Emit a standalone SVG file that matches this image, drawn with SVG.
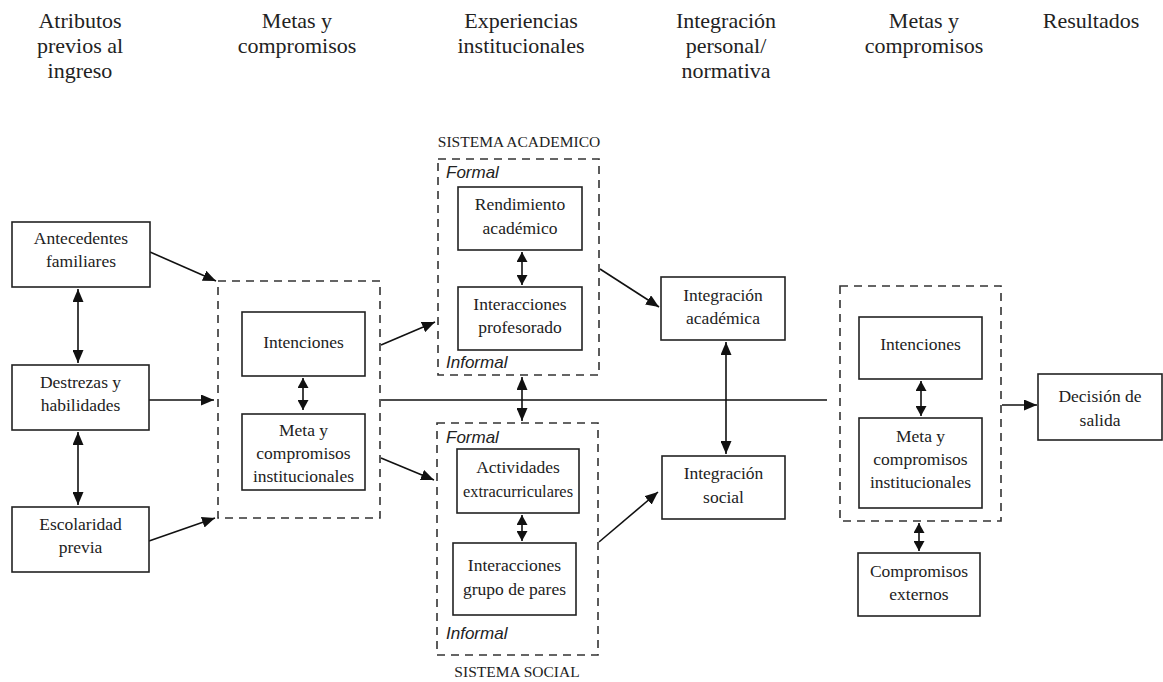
<svg xmlns="http://www.w3.org/2000/svg" width="1163" height="682" viewBox="0 0 1163 682">
<style>
.bg{fill:#fff}
.box{fill:#fff;stroke:#222;stroke-width:1.6}
.dash{fill:none;stroke:#333;stroke-width:1.6;stroke-dasharray:8 6}
.t{font-family:"Liberation Serif","Times New Roman",serif;font-size:17.5px;fill:#222;text-anchor:middle}
.h{font-family:"Liberation Serif","Times New Roman",serif;font-size:22px;fill:#222;text-anchor:middle}
.s{font-family:"Liberation Serif","Times New Roman",serif;font-size:15.5px;fill:#222;text-anchor:middle}
.i{font-family:"Liberation Sans",Arial,sans-serif;font-size:17px;font-style:italic;fill:#222}
.c{fill:none;stroke:#111;stroke-width:1.6}
</style>
<defs>
<marker id="ah" markerUnits="userSpaceOnUse" markerWidth="13" markerHeight="11" refX="13" refY="5.5" orient="auto-start-reverse">
<path d="M0,0 L13,5.5 L0,11 z" fill="#111"/>
</marker>
<marker id="as" markerUnits="userSpaceOnUse" markerWidth="10" markerHeight="11" refX="10" refY="5.5" orient="auto-start-reverse">
<path d="M0,0 L10,5.5 L0,11 z" fill="#111"/>
</marker>
</defs>
<rect class="bg" x="0" y="0" width="1163" height="682"/>

<g id="headers">
<text class="h" x="80" y="28">Atributos</text>
<text class="h" x="80" y="53">previos al</text>
<text class="h" x="80" y="78">ingreso</text>
<text class="h" x="297" y="28">Metas y</text>
<text class="h" x="297" y="53">compromisos</text>
<text class="h" x="521" y="28">Experiencias</text>
<text class="h" x="521" y="53">institucionales</text>
<text class="h" x="726" y="28">Integración</text>
<text class="h" x="726" y="53">personal/</text>
<text class="h" x="726" y="78">normativa</text>
<text class="h" x="924" y="28">Metas y</text>
<text class="h" x="924" y="53">compromisos</text>
<text class="h" x="1091" y="28">Resultados</text>
</g>

<g id="connectors">
<line class="c" x1="150" y1="252" x2="216" y2="281" marker-end="url(#ah)"/>
<line class="c" x1="149" y1="400" x2="214" y2="400" marker-end="url(#ah)"/>
<line class="c" x1="149" y1="541" x2="215" y2="518" marker-end="url(#ah)"/>
<line class="c" x1="78" y1="289" x2="78" y2="363" marker-start="url(#ah)" marker-end="url(#ah)"/>
<line class="c" x1="78" y1="432" x2="78" y2="505" marker-start="url(#ah)" marker-end="url(#ah)"/>
<line class="c" x1="303" y1="378" x2="303" y2="410" marker-start="url(#as)" marker-end="url(#as)"/>
<line class="c" x1="381" y1="345" x2="435" y2="322" marker-end="url(#ah)"/>
<line class="c" x1="381" y1="458" x2="434" y2="480" marker-end="url(#ah)"/>
<line class="c" x1="381" y1="400" x2="827" y2="400"/>
<line class="c" x1="522" y1="252" x2="522" y2="285" marker-start="url(#as)" marker-end="url(#as)"/>
<line class="c" x1="522" y1="377" x2="522" y2="421" marker-start="url(#ah)" marker-end="url(#ah)"/>
<line class="c" x1="522" y1="515" x2="522" y2="541" marker-start="url(#as)" marker-end="url(#as)"/>
<line class="c" x1="600" y1="269" x2="659" y2="307" marker-end="url(#ah)"/>
<line class="c" x1="599" y1="542" x2="658" y2="492" marker-end="url(#ah)"/>
<line class="c" x1="726" y1="342" x2="726" y2="454" marker-start="url(#ah)" marker-end="url(#ah)"/>
<line class="c" x1="921" y1="381" x2="921" y2="416" marker-start="url(#as)" marker-end="url(#as)"/>
<line class="c" x1="919" y1="523" x2="919" y2="551" marker-start="url(#as)" marker-end="url(#as)"/>
<line class="c" x1="1002" y1="405" x2="1037" y2="405" marker-end="url(#ah)"/>
</g>

<g id="antecedentes">
<rect class="box" x="12" y="222" width="138" height="65"/>
<text class="t" x="81" y="244">Antecedentes</text>
<text class="t" x="81" y="267">familiares</text>
</g>
<g id="destrezas">
<rect class="box" x="12" y="365" width="137" height="65"/>
<text class="t" x="80.5" y="388">Destrezas y</text>
<text class="t" x="80.5" y="411">habilidades</text>
</g>
<g id="escolaridad">
<rect class="box" x="12" y="507" width="137" height="65"/>
<text class="t" x="80.5" y="530">Escolaridad</text>
<text class="t" x="80.5" y="553">previa</text>
</g>

<g id="metas1">
<rect class="dash" x="218" y="281" width="162" height="237"/>
</g>
<g id="intenciones1">
<rect class="box" x="242" y="312" width="123" height="64"/>
<text class="t" x="303.5" y="348">Intenciones</text>
</g>
<g id="meta1">
<rect class="box" x="242" y="414" width="123" height="76"/>
<text class="t" x="303.5" y="436">Meta y</text>
<text class="t" x="303.5" y="459">compromisos</text>
<text class="t" x="303.5" y="482">institucionales</text>
</g>

<g id="sistema-academico">
<text class="s" x="519" y="147">SISTEMA ACADEMICO</text>
<rect class="dash" x="438" y="159" width="161" height="216"/>
<text class="i" x="446" y="178">Formal</text>
<text class="i" x="446" y="368">Informal</text>
</g>
<g id="rendimiento">
<rect class="box" x="458" y="187" width="124" height="63"/>
<text class="t" x="520" y="210">Rendimiento</text>
<text class="t" x="520" y="234">académico</text>
</g>
<g id="interacciones-prof">
<rect class="box" x="458" y="287" width="124" height="63"/>
<text class="t" x="520" y="310">Interacciones</text>
<text class="t" x="520" y="333">profesorado</text>
</g>

<g id="sistema-social">
<rect class="dash" x="437" y="423" width="161" height="232"/>
<text class="i" x="446" y="443">Formal</text>
<text class="i" x="446" y="639">Informal</text>
<text class="s" x="517" y="677">SISTEMA SOCIAL</text>
</g>
<g id="actividades">
<rect class="box" x="457" y="449" width="122" height="64"/>
<text class="t" x="518" y="473">Actividades</text>
<text class="t" x="518" y="497" textLength="110" lengthAdjust="spacingAndGlyphs">extracurriculares</text>
</g>
<g id="interacciones-pares">
<rect class="box" x="453" y="543" width="123" height="72"/>
<text class="t" x="514.5" y="571">Interacciones</text>
<text class="t" x="514.5" y="595">grupo de pares</text>
</g>

<g id="integracion-academica">
<rect class="box" x="661" y="277" width="124" height="63"/>
<text class="t" x="723" y="301">Integración</text>
<text class="t" x="723" y="324">académica</text>
</g>
<g id="integracion-social">
<rect class="box" x="662" y="456" width="123" height="63"/>
<text class="t" x="723.5" y="479">Integración</text>
<text class="t" x="723.5" y="503">social</text>
</g>

<g id="metas2">
<rect class="dash" x="840" y="286" width="161" height="235"/>
</g>
<g id="intenciones2">
<rect class="box" x="859" y="317" width="123" height="62"/>
<text class="t" x="920.5" y="350">Intenciones</text>
</g>
<g id="meta2">
<rect class="box" x="859" y="418" width="123" height="90"/>
<text class="t" x="920.5" y="442">Meta y</text>
<text class="t" x="920.5" y="465">compromisos</text>
<text class="t" x="920.5" y="488">institucionales</text>
</g>
<g id="compromisos-externos">
<rect class="box" x="858" y="553" width="122" height="63"/>
<text class="t" x="919" y="577">Compromisos</text>
<text class="t" x="919" y="600">externos</text>
</g>
<g id="decision">
<rect class="box" x="1038" y="374" width="124" height="66"/>
<text class="t" x="1100" y="402">Decisión de</text>
<text class="t" x="1100" y="426">salida</text>
</g>
</svg>
